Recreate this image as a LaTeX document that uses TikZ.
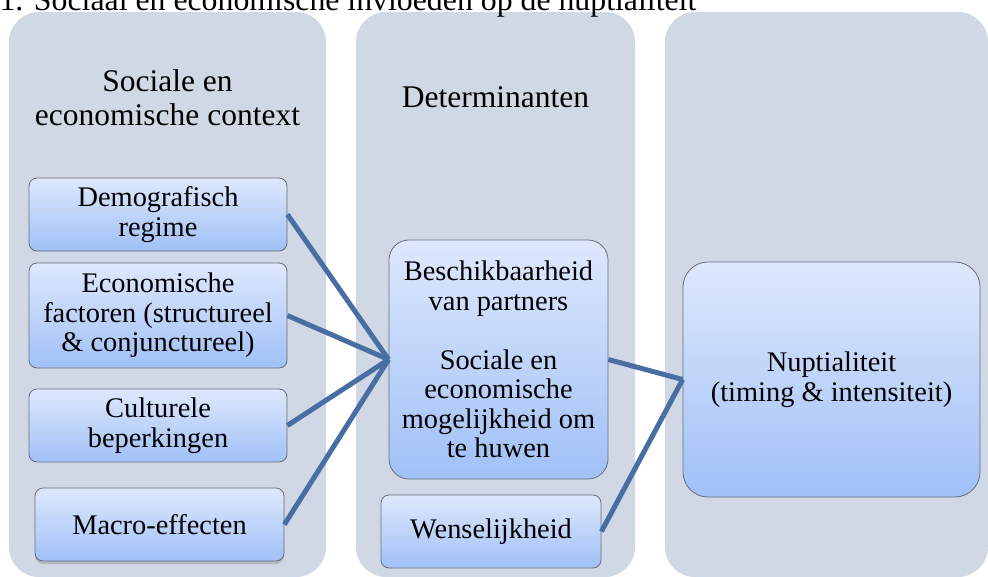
\documentclass[tikz,border=0pt]{standalone}
\usepackage{fontspec}
\setmainfont{Liberation Serif}
\usepackage{tikz}
\usetikzlibrary{shadows}

\definecolor{kolom}{RGB}{208,215,229}
\definecolor{bloktop}{RGB}{222,232,252}
\definecolor{blokbodem}{RGB}{160,192,247}
\definecolor{blokrand}{RGB}{105,110,120}
\definecolor{lijnkleur}{RGB}{72,110,164}

\tikzset{
  blok/.style={draw=blokrand, line width=0.8pt, rounded corners=8pt,
    top color=bloktop, bottom color=blokbodem, align=center, inner sep=0pt,
    font=\fontsize{28.4}{29.5}\selectfont},
  kop/.style={align=center, font=\fontsize{31.5}{34}\selectfont},
  lijn/.style={draw=lijnkleur, line width=5pt},
}

\begin{document}
\begin{tikzpicture}[x=1pt,y=-1pt]
                    \useasboundingbox (0,0) rectangle (988,576);
                    % kolommen
                    \fill[kolom, rounded corners=30pt] (9,12) rectangle (326,577);
                    \fill[kolom, rounded corners=30pt] (356,12) rectangle (635,577);
                    \fill[kolom, rounded corners=30pt] (665,12) rectangle (988,577);

                    \node[anchor=base west, font=\fontsize{31.8}{34}\selectfont] (titel) at (-4,10) {1. Sociaal en economische invloeden op de nuptialiteit};
                    \node[kop] (context) at (167.5,98) {Sociale en\\economische context};
                    \node[kop] (determ) at (495.5,97) {Determinanten};

                    \node[blok, minimum width=258pt, minimum height=73pt] (demo) at (158,214.5) {Demografisch\\regime};
                    \node[blok, minimum width=258pt, minimum height=105pt] (econ) at (158,315.5) {Economische\\factoren (structureel\\\& conjunctureel)};
                    \node[blok, minimum width=258pt, minimum height=73pt] (cult) at (158,425.5) {Culturele\\beperkingen};
                    \node[blok, minimum width=249pt, minimum height=73pt,
                          drop shadow={shadow xshift=0pt, shadow yshift=-3pt, opacity=0.35}] (macro) at (159.5,524.5) {Macro-effecten};

                    \node[blok, rounded corners=20pt, minimum width=219pt, minimum height=239pt] (besch) at (498.5,359.5) {Beschikbaarheid\\van partners\\[29.5pt]Sociale en\\economische\\mogelijkheid om\\te huwen};
                    \node[blok, minimum width=220pt, minimum height=73pt] (wens) at (491,531.5) {Wenselijkheid};

                    \node[blok, rounded corners=25pt, minimum width=297pt, minimum height=235pt] (nup) at (831.5,379.5) {Nuptialiteit\\(timing \& intensiteit)};

                    \draw[lijn] (demo.east) -- (besch.west);
                    \draw[lijn] (econ.east) -- (besch.west);
                    \draw[lijn] (cult.east) -- (besch.west);
                    \draw[lijn] (macro.east) -- (besch.west);
                    \draw[lijn] (besch.east) -- (nup.west);
                    \draw[lijn] (wens.east) -- (nup.west);
                \end{tikzpicture}
\end{document}
